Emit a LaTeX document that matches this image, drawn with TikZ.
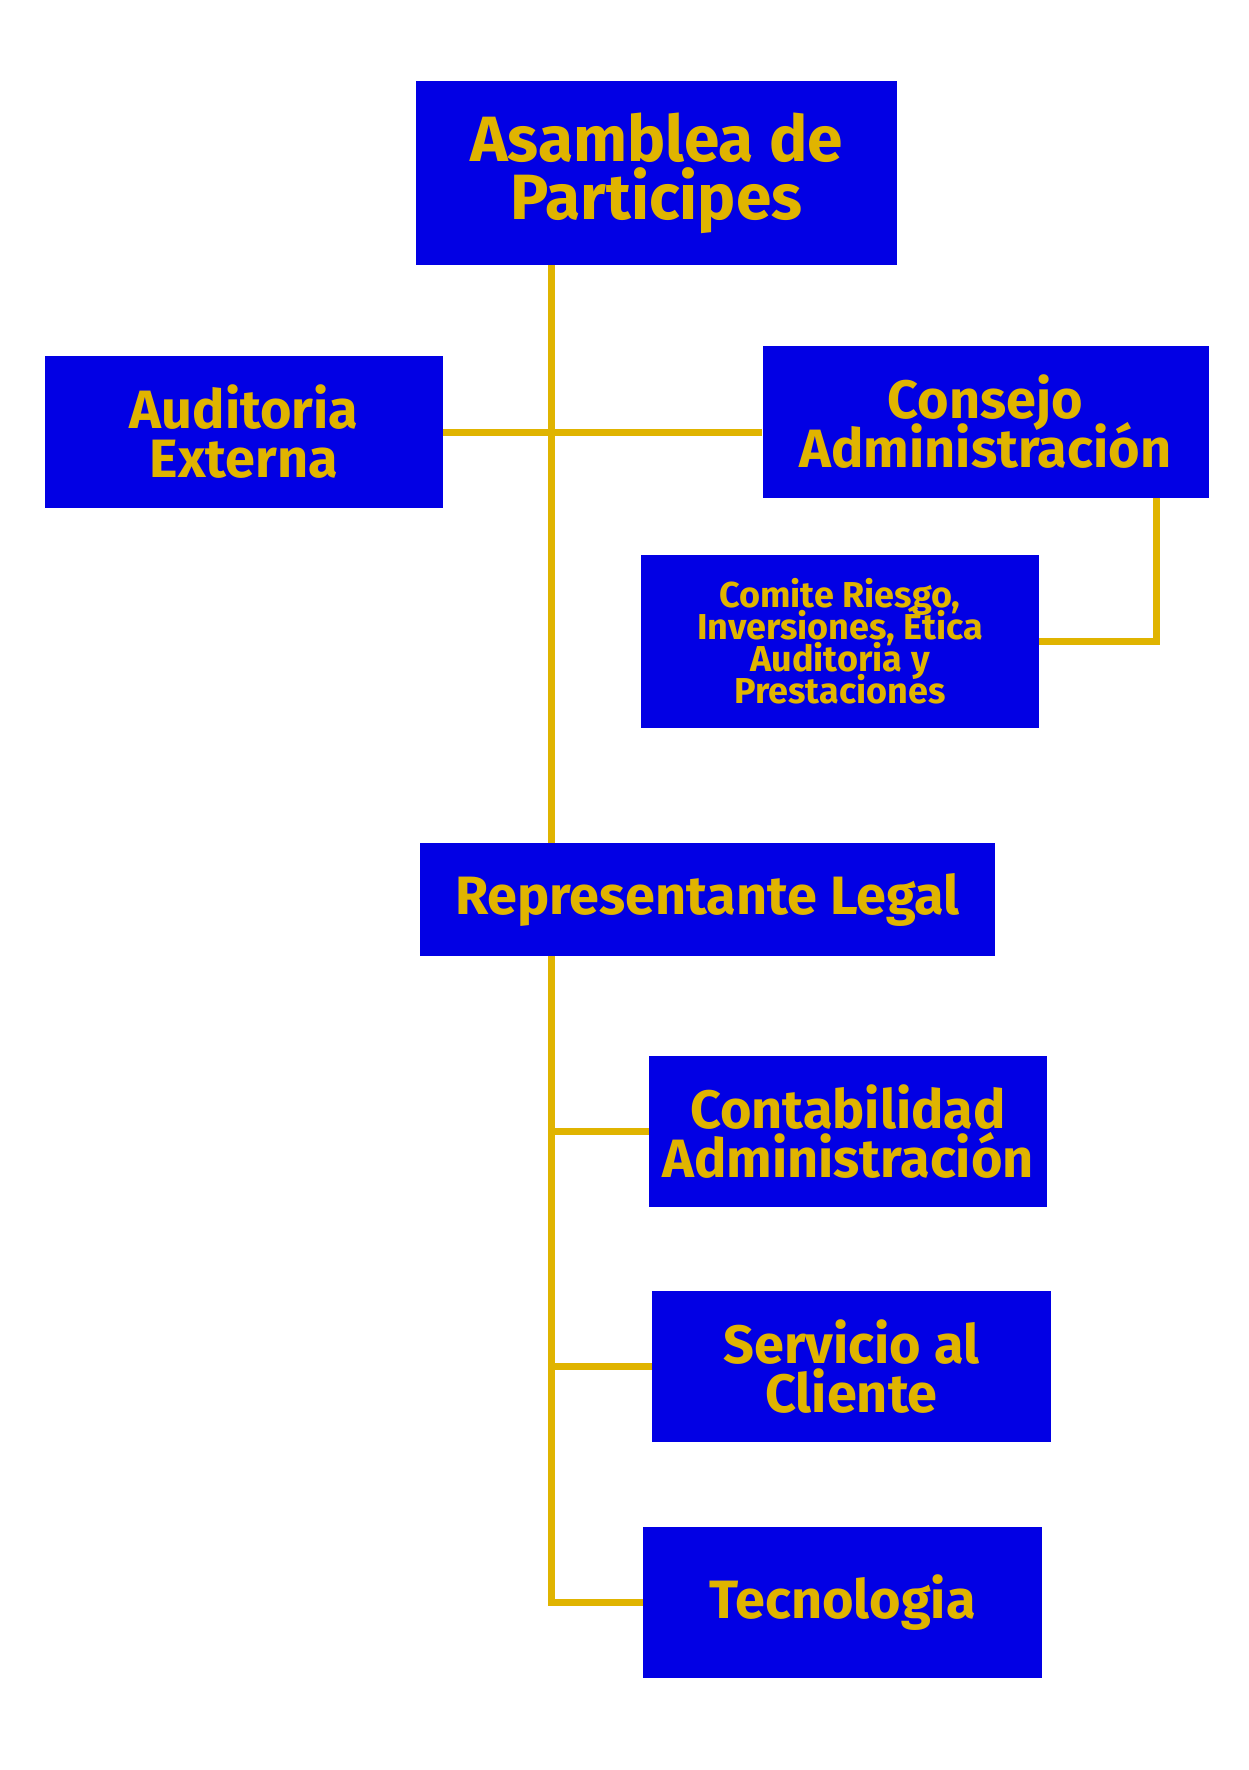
\documentclass[tikz,border=0pt]{standalone}
\usepackage{fontspec}
\setmainfont{Fira Sans}
\definecolor{boxblue}{RGB}{2,0,228}
\definecolor{gold}{RGB}{224,180,0}
\newcommand\tightlines{\lineskiplimit-100pt\relax}
\begin{document}
\begin{tikzpicture}[x=1pt,y=-1pt]
\tikzset{
  orgbox/.style={fill=boxblue, draw=none, text=gold, align=center, inner sep=0pt, font=\bfseries},
  link/.style={draw=gold, line width=7pt}
}
\useasboundingbox[fill=white] (0,0) rectangle (1248,1770);
\node[orgbox, minimum width=481pt, minimum height=184pt, font=\bfseries\fontsize{64}{58}\selectfont\tightlines] (asam) at (656.5,173) {Asamblea de\\Participes};
\node[orgbox, minimum width=398pt, minimum height=152pt, font=\bfseries\fontsize{54}{49}\selectfont\tightlines] (aud) at (244,432) {Auditoria\\Externa};
\node[orgbox, minimum width=446pt, minimum height=152pt, font=\bfseries\fontsize{54}{49}\selectfont\tightlines] (cons) at (985.5,422) {Consejo\\Administración};
\node[orgbox, minimum width=398pt, minimum height=173pt, font=\bfseries\fontsize{36}{32}\selectfont\tightlines] (com) at (840,641.5) {Comite Riesgo,\\Inversiones, Ética\\Auditoria y\\Prestaciones};
\node[orgbox, minimum width=575pt, minimum height=113pt, font=\bfseries\fontsize{54}{49}\selectfont] (rep) at (707.5,899.5) {Representante Legal};
\node[orgbox, minimum width=398pt, minimum height=151pt, font=\bfseries\fontsize{54}{49}\selectfont\tightlines] (cont) at (848,1131.5) {Contabilidad\\Administración};
\node[orgbox, minimum width=399pt, minimum height=151pt, font=\bfseries\fontsize{54}{49}\selectfont\tightlines] (serv) at (851.5,1366.5) {Servicio al\\Cliente};
\node[orgbox, minimum width=399pt, minimum height=151pt, font=\bfseries\fontsize{54}{49}\selectfont] (tec) at (842.5,1602.5) {Tecnologia};
\coordinate (trunk) at (551,0);
\coordinate (cdrop) at (1156,0);
\draw[link] (asam.south -| trunk) -- (rep.north -| trunk);
\draw[link] (aud.east) -- (aud.east -| cons.west);
\draw[link] (cons.south -| cdrop) |- (com.east);
\draw[link] (rep.south -| trunk) |- (tec.west);
\draw[link] (cont.west -| trunk) -- (cont.west);
\draw[link] (serv.west -| trunk) -- (serv.west);
\end{tikzpicture}
\end{document}
